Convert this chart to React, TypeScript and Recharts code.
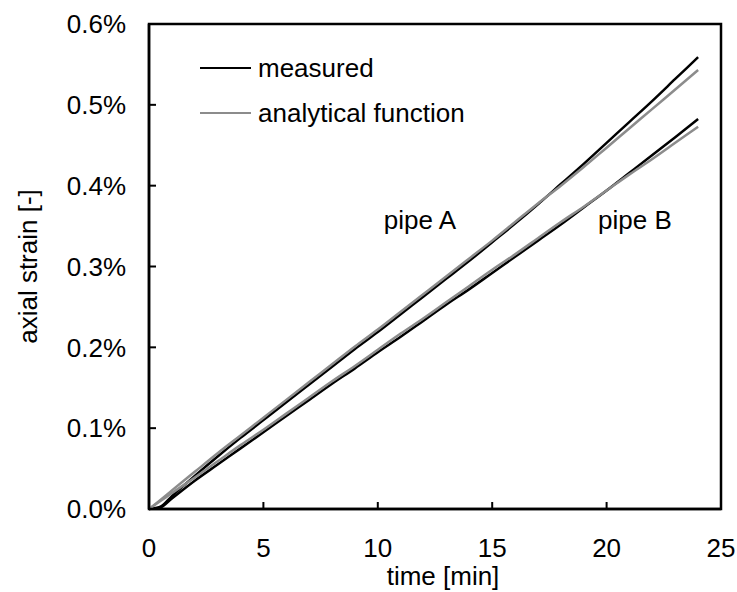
import { LineChart, Line, XAxis, YAxis, Legend, ReferenceArea, ReferenceDot } from 'recharts'

const time = [0, 0.5, 1, 2, 3, 4, 5, 6, 7, 8, 9, 10, 11, 12, 13, 14, 15, 16, 17, 18, 19, 20, 21, 22, 23, 24]
const measuredA = [0, 0.003, 0.016, 0.041, 0.065, 0.088, 0.11, 0.132, 0.154, 0.176, 0.198, 0.219, 0.241, 0.263, 0.285, 0.307, 0.33, 0.353, 0.377, 0.402, 0.427, 0.453, 0.479, 0.505, 0.532, 0.559]
const analyticalA = [0, 0.0113, 0.023, 0.046, 0.069, 0.091, 0.113, 0.135, 0.157, 0.179, 0.201, 0.222, 0.244, 0.266, 0.288, 0.31, 0.332, 0.355, 0.378, 0.4, 0.423, 0.447, 0.471, 0.495, 0.519, 0.543]
const measuredB = [0, 0.002, 0.013, 0.035, 0.055, 0.075, 0.095, 0.115, 0.135, 0.155, 0.174, 0.194, 0.213, 0.233, 0.253, 0.272, 0.292, 0.312, 0.332, 0.352, 0.373, 0.394, 0.416, 0.438, 0.46, 0.4825]
const analyticalB = [0, 0.0098, 0.0197, 0.039, 0.059, 0.079, 0.098, 0.118, 0.138, 0.158, 0.177, 0.197, 0.217, 0.236, 0.256, 0.276, 0.296, 0.315, 0.335, 0.355, 0.374, 0.394, 0.414, 0.433, 0.453, 0.473]

const xTicks = [0, 5, 10, 15, 20, 25]
const yTicks = [0, 0.1, 0.2, 0.3, 0.4, 0.5, 0.6]

const legendItems = [
  { label: 'measured', color: '#000000' },
  { label: 'analytical function', color: '#8c8c8c' },
]

const data = time.map((t, i) => ({
  t,
  mA: measuredA[i],
  aA: analyticalA[i],
  mB: measuredB[i],
  aB: analyticalB[i],
}))

const font = 'Liberation Sans, Arial, sans-serif'
const tickStyle = { fill: '#000', fontSize: 26, fontFamily: font }

function LegendBox() {
  return (
    <div style={{ fontFamily: font, fontSize: 26, color: '#000', lineHeight: 1 }}>
      {legendItems.map((item) => (
        <div key={item.label} style={{ display: 'flex', alignItems: 'center', height: 45 }}>
          <span style={{ display: 'inline-block', width: 51, borderTop: `2.5px solid ${item.color}`, marginRight: 7 }} />
          <span>{item.label}</span>
        </div>
      ))}
    </div>
  )
}

export default function App() {
  return (
    <div style={{ position: 'absolute', left: 0, top: 0, width: 737, height: 592, background: '#fff' }}>
      <LineChart width={737} height={592} data={data} margin={{ top: 24, right: 16, bottom: 0, left: 0 }}>
        <XAxis
          dataKey="t"
          type="number"
          domain={[0, 25]}
          ticks={xTicks}
          height={83}
          tickSize={-7}
          tickMargin={37}
          tick={tickStyle}
          axisLine={{ stroke: '#000', strokeWidth: 2.5 }}
          tickLine={{ stroke: '#000', strokeWidth: 2 }}
          label={{ value: 'time [min]', position: 'insideBottom', offset: 7, dx: 8, fontSize: 26, fill: '#000', fontFamily: font }}
        />
        <YAxis
          type="number"
          domain={[0, 0.6]}
          ticks={yTicks}
          width={149}
          tickSize={-7}
          tickMargin={30}
          tick={tickStyle}
          tickFormatter={(v) => `${Number(v).toFixed(1)}%`}
          axisLine={{ stroke: '#000', strokeWidth: 2.5 }}
          tickLine={{ stroke: '#000', strokeWidth: 2 }}
          label={{ value: 'axial strain [-]', angle: -90, position: 'center', dx: -47, fontSize: 26, fill: '#000', fontFamily: font }}
        />
        <ReferenceArea x1={0} x2={25} y1={0} y2={0.6} fill="none" stroke="#000" strokeWidth={2.5} />
        <Legend
          verticalAlign="middle"
          align="center"
          layout="vertical"
          content={() => <LegendBox />}
          wrapperStyle={{ left: 200, top: 45, width: 320 }}
        />
        <Line dataKey="mA" type="monotone" stroke="#000" strokeWidth={2.5} dot={false} isAnimationActive={false} legendType="none" />
        <Line dataKey="mB" type="monotone" stroke="#000" strokeWidth={2.5} dot={false} isAnimationActive={false} legendType="none" />
        <Line dataKey="aA" type="monotone" stroke="#8c8c8c" strokeWidth={2.5} dot={false} isAnimationActive={false} legendType="none" />
        <Line dataKey="aB" type="monotone" stroke="#8c8c8c" strokeWidth={2.5} dot={false} isAnimationActive={false} legendType="none" />
        <ReferenceDot x={11.84} y={0.3575} r={0} fill="none" stroke="none"
          label={{ value: 'pipe A', position: 'center', fontSize: 26, fill: '#000', fontFamily: font }} />
        <ReferenceDot x={21.24} y={0.3575} r={0} fill="none" stroke="none"
          label={{ value: 'pipe B', position: 'center', fontSize: 26, fill: '#000', fontFamily: font }} />
      </LineChart>
    </div>
  )
}
